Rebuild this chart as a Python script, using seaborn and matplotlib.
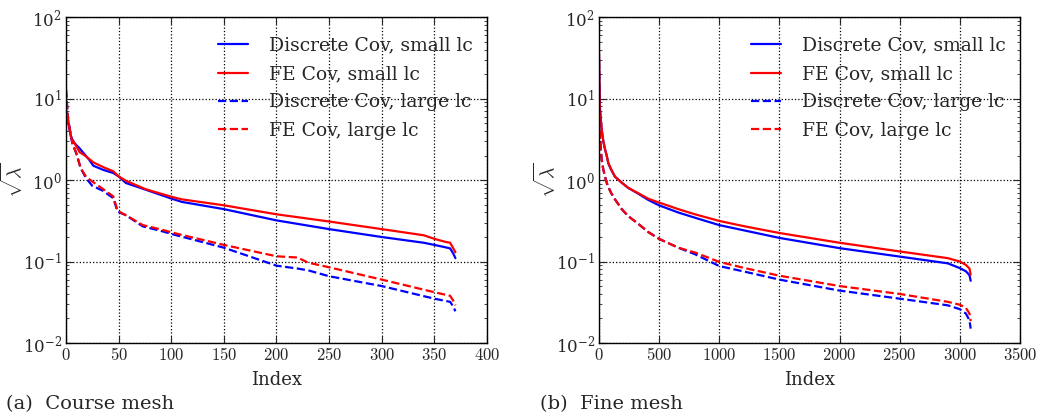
import numpy as np
import pandas as pd
import matplotlib
matplotlib.use("Agg")
import matplotlib.pyplot as plt
import seaborn as sns

# ---- data (index, sqrt(lambda)) ----
# (a) Course mesh
a_idx_small = [0, 5, 8, 13, 18, 22, 26, 35, 45, 50, 57, 76, 99, 110, 150, 200, 250, 300, 340, 350, 360, 365, 368, 370]
a_disc_small = [7.3, 3.3, 2.85, 2.45, 2.05, 1.78, 1.5, 1.34, 1.22, 1.11, 0.92, 0.76, 0.60, 0.54, 0.44, 0.32, 0.25, 0.20, 0.17, 0.16, 0.15, 0.145, 0.125, 0.11]
a_fe_small = [7.3, 3.3, 2.85, 2.2, 2.0, 1.82, 1.65, 1.45, 1.28, 1.11, 0.98, 0.77, 0.63, 0.58, 0.49, 0.38, 0.31, 0.25, 0.21, 0.19, 0.175, 0.17, 0.145, 0.13]
a_idx_large = [0, 2, 6, 10, 14, 19, 25, 35, 45, 49, 57, 73, 89, 105, 150, 200, 220, 230, 250, 300, 350, 365, 368, 370]
a_disc_large = [13.0, 5.5, 2.85, 2.1, 1.4, 1.06, 0.85, 0.74, 0.60, 0.41, 0.37, 0.27, 0.24, 0.21, 0.148, 0.089, 0.082, 0.078, 0.066, 0.050, 0.035, 0.032, 0.028, 0.0245]
a_fe_large = [13.0, 5.5, 2.85, 2.1, 1.4, 1.1, 0.96, 0.78, 0.63, 0.42, 0.37, 0.28, 0.25, 0.22, 0.16, 0.116, 0.112, 0.097, 0.085, 0.060, 0.042, 0.038, 0.033, 0.029]

# (b) Fine mesh
b_idx = [0, 3, 8, 22, 36, 50, 64, 78, 100, 133, 189, 244, 327, 410, 499, 659, 798, 1000, 1213, 1500, 2000, 2500, 2900, 3000, 3050, 3080, 3090]
b_disc_small = [35.0, 15.0, 7.4, 4.2, 3.0, 2.4, 2.0, 1.6, 1.35, 1.1, 0.93, 0.80, 0.68, 0.57, 0.49, 0.40, 0.345, 0.28, 0.24, 0.195, 0.146, 0.115, 0.095, 0.083, 0.076, 0.068, 0.058]
b_fe_small = [40.0, 16.0, 7.6, 4.3, 3.0, 2.4, 2.0, 1.62, 1.37, 1.1, 0.93, 0.80, 0.69, 0.59, 0.53, 0.44, 0.38, 0.315, 0.27, 0.224, 0.17, 0.133, 0.11, 0.10, 0.091, 0.082, 0.069]
b_disc_large = [30.0, 8.0, 3.5, 1.8, 1.35, 1.1, 0.93, 0.82, 0.70, 0.58, 0.44, 0.36, 0.29, 0.23, 0.19, 0.148, 0.123, 0.088, 0.075, 0.060, 0.044, 0.035, 0.029, 0.026, 0.023, 0.019, 0.015]
b_fe_large = [30.0, 8.0, 3.5, 1.8, 1.35, 1.1, 0.93, 0.82, 0.70, 0.58, 0.44, 0.36, 0.29, 0.23, 0.19, 0.148, 0.129, 0.099, 0.083, 0.067, 0.050, 0.040, 0.032, 0.0295, 0.027, 0.023, 0.0185]

labels = ["Discrete Cov, small lc", "FE Cov, small lc", "Discrete Cov, large lc", "FE Cov, large lc"]
xlims = [(0, 400), (0, 3500)]
xticks = [list(range(0, 401, 50)), list(range(0, 3501, 500))]
captions = ["(a)  Course mesh", "(b)  Fine mesh"]

sns.set_style("ticks")
plt.rcParams["font.family"] = ["DejaVu Serif"]
plt.rcParams["mathtext.fontset"] = "cm"
plt.rcParams["xtick.direction"] = "in"
plt.rcParams["ytick.direction"] = "in"

fig = plt.figure(figsize=(10.37, 4.13), dpi=100)
axes = [fig.add_axes([0.0636, 0.1695, 0.406, 0.789]),
        fig.add_axes([0.5776, 0.1695, 0.406, 0.789])]

panels = [
    [(a_idx_small, a_disc_small), (a_idx_small, a_fe_small), (a_idx_large, a_disc_large), (a_idx_large, a_fe_large)],
    [(b_idx, b_disc_small), (b_idx, b_fe_small), (b_idx, b_disc_large), (b_idx, b_fe_large)],
]
colors = ["#0000ff", "#ff0000", "#0000ff", "#ff0000"]
styles = ["-", "-", "--", "--"]

for k, ax in enumerate(axes):
    for (xs, ys), lab, c, ls in zip(panels[k], labels, colors, styles):
        df = pd.DataFrame({"Index": xs, "val": ys})
        sns.lineplot(data=df, x="Index", y="val", ax=ax, color=c, linestyle=ls,
                     linewidth=1.6, label=lab, sort=False)
    ax.set_yscale("log")
    ax.set_ylim(1e-2, 1e2)
    ax.set_xlim(*xlims[k])
    ax.set_xticks(xticks[k])
    ax.set_xticklabels([f"${t}$" for t in xticks[k]])
    ax.set_xlabel("Index", fontsize=13)
    ax.xaxis.set_label_coords(0.5, -0.085)
    ax.set_ylabel(r"$\sqrt{\lambda}$", fontsize=14)
    ax.yaxis.set_label_coords(-0.095, 0.5)
    ax.grid(True, which="major", linestyle=":", color="black", linewidth=0.9)
    ax.tick_params(which="both", top=True, right=True, labelsize=12, pad=3)
    ax.tick_params(which="major", length=5, width=0.8)
    ax.tick_params(which="minor", length=2.5, width=0.6)
    for s in ax.spines.values():
        s.set_linewidth(1.0)
        s.set_color("black")
    ax.legend(loc="upper right", bbox_to_anchor=(1.014, 1.0), frameon=False, fontsize=13.5,
              handlelength=1.6, handletextpad=1.15, labelspacing=0.55,
              borderaxespad=0.65)
    fig.text(0.006 if k == 0 else 0.521, 0.022, captions[k], fontsize=14, ha="left", va="center")

fig.savefig("out.png", dpi=100)
